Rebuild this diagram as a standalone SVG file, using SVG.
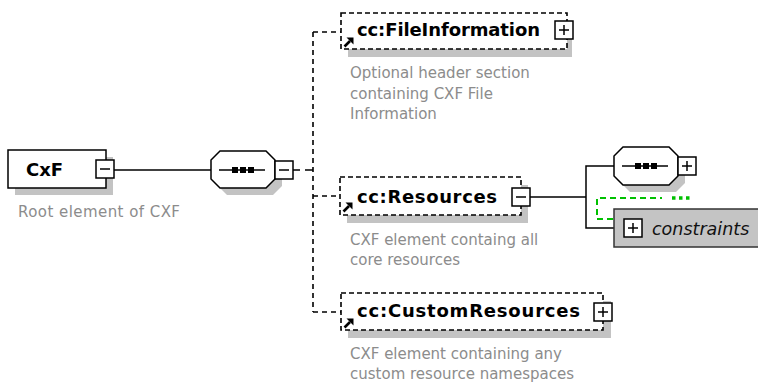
<svg xmlns="http://www.w3.org/2000/svg" width="758" height="383" viewBox="0 0 758 383">
<style>
.bg{fill:#ffffff}
.shadow{fill:#c3c3c3;stroke:none}
.solidbox{fill:#ffffff;stroke:#000;stroke-width:1.5}
.dashbox{fill:#ffffff;stroke:#000;stroke-width:1.6;stroke-dasharray:5 3}
.btn{fill:#ffffff;stroke:#000;stroke-width:1.5}
.sign{stroke:#000;stroke-width:1.5;fill:none}
.seq{fill:#ffffff;stroke:#000;stroke-width:1.5}
.conn{stroke:#000;stroke-width:1.5;fill:none}
.dconn{stroke:#000;stroke-width:1.6;fill:none;stroke-dasharray:5 4}
.green{stroke:#00c000;stroke-width:2;fill:none;stroke-dasharray:6 4}
.greendot{stroke:#00c000;stroke-width:3.5;fill:none;stroke-dasharray:3.5 3.5}
.label{font-family:"DejaVu Sans",Verdana,sans-serif;font-weight:bold;font-size:18px;fill:#000}
.desc{font-family:"DejaVu Sans",Verdana,sans-serif;font-size:15px;fill:#8c8c8c}
.italic{font-family:"DejaVu Sans",Verdana,sans-serif;font-style:italic;font-size:17.5px;fill:#111}
</style>
<defs>
<g id="minus"><rect class="btn" x="0" y="0" width="18" height="18"/><path class="sign" d="M4 9H14"/></g>
<g id="plus"><rect class="btn" x="0" y="0" width="18" height="18"/><path class="sign" d="M4 9H14M9 4V14"/></g>
<g id="refarrow"><path d="M1.5 9.5L7 4" stroke="#000" stroke-width="2.6" fill="none"/><path d="M3.5 0.5H10.5V7.5Z" fill="#000"/></g>
<g id="seqicon"><path class="conn" d="M0 0H46"/><rect x="13" y="-3" width="6" height="6" fill="#000"/><rect x="21" y="-3" width="6" height="6" fill="#000"/><rect x="29" y="-3" width="6" height="6" fill="#000"/></g>
</defs>
<rect class="bg" x="0" y="0" width="758" height="383"/>

<g id="connectors">
<path class="conn" d="M114 170H211"/>
<path class="conn" d="M293 170H300"/>
<path class="conn" d="M305 170H313"/>
<path class="dconn" d="M313 32V312"/>
<path class="dconn" d="M313 32H341"/>
<path class="dconn" d="M313 196H340"/>
<path class="dconn" d="M313 312H341"/>
<path class="conn" d="M530 197H586V166H614M586 197V228H614"/>
<path class="green" d="M613 219H597V198H662"/>
<path class="greendot" d="M672 198H692"/>
</g>

<g id="node-cxf">
<rect class="shadow" x="15" y="157" width="98" height="38"/>
<rect class="solidbox" x="8" y="150" width="98" height="38"/>
<text class="label" x="26" y="176" font-size="17">CxF</text>
<use href="#minus" x="96" y="160"/>
<text class="desc" x="18" y="217" textLength="162" lengthAdjust="spacing">Root element of CXF</text>
</g>

<g id="node-sequence">
<path class="shadow" d="M227 158H273L282 167V186L273 195H227L218 186V167Z"/>
<path class="seq" d="M220 151H266L275 160V179L266 188H220L211 179V160Z"/>
<use href="#seqicon" x="219" y="170"/>
<use href="#minus" x="275" y="161"/>
</g>

<g id="node-fileinformation">
<rect class="shadow" x="348" y="21" width="224" height="36"/>
<rect class="dashbox" x="341" y="13" width="226" height="36"/>
<text class="label" x="357" y="36" textLength="183" lengthAdjust="spacing">cc:FileInformation</text>
<use href="#plus" x="555" y="21"/>
<use href="#refarrow" x="343" y="37"/>
<text class="desc" x="350" y="78">Optional header section</text>
<text class="desc" x="350" y="99">containing CXF File</text>
<text class="desc" x="350" y="119">Information</text>
</g>

<g id="node-resources">
<rect class="shadow" x="347" y="185" width="181" height="38"/>
<rect class="dashbox" x="340" y="177" width="181" height="38"/>
<text class="label" x="357" y="203" textLength="140" lengthAdjust="spacing">cc:Resources</text>
<use href="#minus" x="512" y="188"/>
<use href="#refarrow" x="342" y="202"/>
<text class="desc" x="350" y="245">CXF element containg all</text>
<text class="desc" x="350" y="265">core resources</text>
</g>

<g id="node-customresources">
<rect class="shadow" x="348" y="301" width="263" height="37"/>
<rect class="dashbox" x="341" y="293" width="262" height="37"/>
<text class="label" x="357" y="317" textLength="223" lengthAdjust="spacing">cc:CustomResources</text>
<use href="#plus" x="594" y="303"/>
<use href="#refarrow" x="343" y="318"/>
<text class="desc" x="350" y="359">CXF element containing any</text>
<text class="desc" x="350" y="379">custom resource namespaces</text>
</g>

<g id="node-sequence2">
<path class="shadow" d="M630 154H676L685 163V183L676 192H630L621 183V163Z"/>
<path class="seq" d="M623 147H669L678 156V176L669 185H623L614 176V156Z"/>
<use href="#seqicon" x="622" y="166"/>
<use href="#plus" x="678" y="157"/>
</g>

<g id="node-constraints">
<rect x="614" y="209" width="160" height="38" fill="#c4c4c4" stroke="#333" stroke-width="1.5"/>
<use href="#plus" x="624" y="219"/>
<text class="italic" x="652" y="235">constraints</text>
</g>
</svg>
